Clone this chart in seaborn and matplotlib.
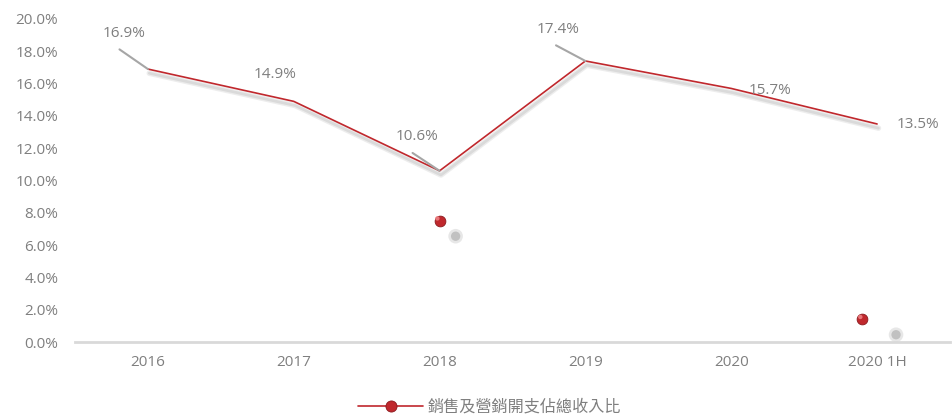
import pandas as pd
import seaborn as sns
import matplotlib.pyplot as plt
import matplotlib.patheffects as pe

years = ["2016", "2017", "2018", "2019", "2020", "2020 1H"]
ratio = [16.9, 14.9, 10.6, 17.4, 15.7, 13.5]
labels = ["16.9%", "14.9%", "10.6%", "17.4%", "15.7%", "13.5%"]
# stray marker copies that the source chart left behind
stray_idx = [2, 5]
stray_val = [7.5, 1.4]
series_name = "銷售及營銷開支佔總收入比"

# label offsets in pixels and whether a leader line is drawn
label_off = [(-24, 36), (-19, 27), (-23, 34), (-27, 31), (39, -2), (41, -1)]
leader = [True, False, True, True, False, False]

red = "#c0282d"
grey = "#7f7f7f"

sns.set_theme(style="white")
plt.rcParams["font.family"] = ["Open Sans", "Noto Sans CJK TC", "DejaVu Sans"]

df = pd.DataFrame({"year": years, "ratio": ratio})

fig = plt.figure(figsize=(9.53, 4.18), dpi=100)
ax = fig.add_axes([75 / 953, 1 - 342 / 418, 875 / 953, 323 / 418])

sns.lineplot(data=df, x="year", y="ratio", ax=ax, color=red, lw=1.2, sort=False,
             path_effects=[pe.SimpleLineShadow(offset=(1, -3), shadow_color="#b0b0b0", alpha=0.22, linewidth=4),
                           pe.SimpleLineShadow(offset=(1, -3), shadow_color="#b0b0b0", alpha=0.3, linewidth=2),
                           pe.Normal()])

for i, (v, t) in enumerate(zip(ratio, labels)):
    dx, dy = label_off[i]
    arrow = None
    if leader[i]:
        arrow = dict(arrowstyle="-", color="#a6a6a6", lw=1.5, shrinkA=7, shrinkB=0,
                     relpos=(0.1, 0.0))
    ax.annotate(t, xy=(i, v), xytext=(dx, dy), textcoords="offset pixels",
                ha="center", va="center", fontsize=11, color=grey, arrowprops=arrow)

# stray markers with blurred shadows
for i, v in zip(stray_idx, stray_val):
    off = -0.1 if i == 5 else 0.0
    sx = i + off + 0.11 + (0.12 if i == 5 else 0)
    ax.scatter([sx], [v - 0.95], s=110, color="#d0d0d0", alpha=0.5, edgecolors="none", zorder=2)
    ax.scatter([sx], [v - 0.95], s=45, color="#a8a8a8", alpha=0.6, edgecolors="none", zorder=2)
    ax.scatter([i + off], [v], s=60, color=red, edgecolors="#8b1a1e", linewidths=0.6, zorder=3)
    ax.scatter([i + off - 0.015], [v + 0.15], s=10, color="#e8777a", edgecolors="none", zorder=4)

ax.set_xlim(-0.5, 5.5)
ax.set_ylim(0, 20)
ax.set_yticks([0, 2, 4, 6, 8, 10, 12, 14, 16, 18, 20])
ax.set_yticklabels([f"{t:.1f}%" for t in ax.get_yticks()])
ax.set_xlabel("")
ax.set_ylabel("")
ax.tick_params(axis="both", colors=grey, labelsize=11, length=0)
ax.tick_params(axis="y", pad=12)
ax.tick_params(axis="x", pad=9)
for s in ["top", "right", "left"]:
    ax.spines[s].set_visible(False)
ax.spines["bottom"].set_color("#d9d9d9")
ax.spines["bottom"].set_linewidth(2)

# legend
h = plt.Line2D([], [], color=red, lw=1.2, marker="o", markersize=8,
               markerfacecolor=red, markeredgecolor="#8b1a1e", markeredgewidth=0.6)
leg = fig.legend([h], [series_name], loc="center", bbox_to_anchor=(0.514, 1 - 407 / 418),
                 frameon=False, fontsize=11.6, handlelength=4.0, handletextpad=0.3)
for t in leg.get_texts():
    t.set_color(grey)
    t.set_family(["Noto Sans CJK TC", "DejaVu Sans"])

fig.savefig("out.png", dpi=100)
